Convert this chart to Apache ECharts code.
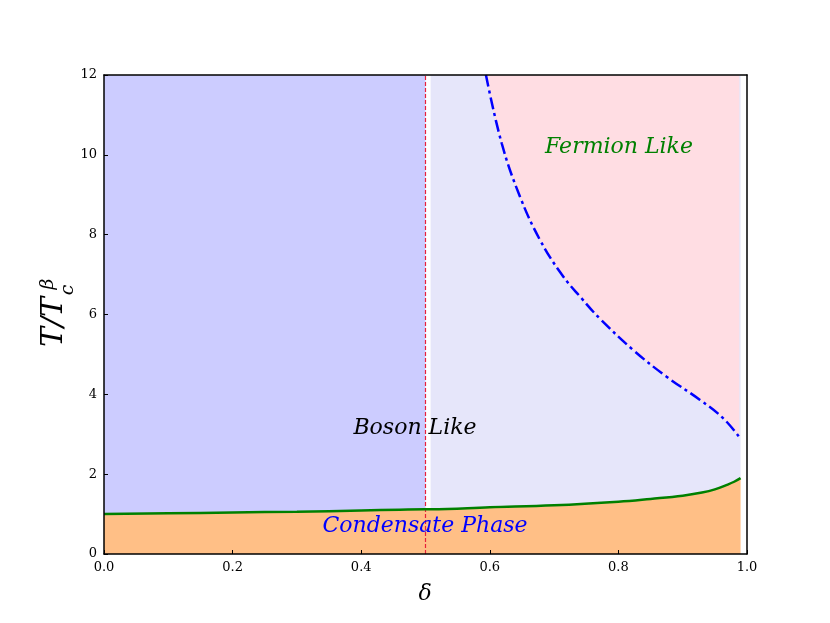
<!DOCTYPE html>
<html>
<head>
<meta charset="utf-8">
<script src="https://cdn.jsdelivr.net/npm/echarts@6/dist/echarts.min.js"></script>
<style>html,body{margin:0;padding:0;background:#fff}#c{width:830px;height:623px}</style>
</head>
<body>
<div id="c"></div>
<script>
// condensate boundary (green)
var greenDelta = [0, 0.1, 0.2, 0.3, 0.4, 0.46, 0.5, 0.508, 0.6, 0.7, 0.8, 0.85, 0.9, 0.93, 0.95, 0.97, 0.98, 0.99];
var greenT     = [1.00, 1.02, 1.04, 1.06, 1.09, 1.11, 1.12, 1.12, 1.17, 1.22, 1.31, 1.38, 1.46, 1.54, 1.62, 1.74, 1.81, 1.90];
// boson/fermion crossover (blue dash-dot)
var crossDelta = [0.594, 0.6185, 0.647, 0.678, 0.712, 0.743, 0.771, 0.823, 0.875, 0.927, 0.963, 0.988];
var crossT     = [12.0, 10.29, 8.95, 7.87, 7.00, 6.40, 5.90, 5.11, 4.44, 3.86, 3.40, 2.93];
// vertical marker
var markerDelta = [0.5, 0.5];
var markerT = [0, 12];
var xTicks = [0, 0.2, 0.4, 0.6, 0.8, 1.0];
var yTicks = [0, 2, 4, 6, 8, 10, 12];
var regionLabels = ['Fermion Like', 'Boson Like', 'Condensate Phase'];

function zip(a, b) { return a.map(function (v, i) { return [v, b[i]]; }); }
var green = zip(greenDelta, greenT);
var greenLeft = green.filter(function (p) { return p[0] <= 0.5; });
var greenRight = green.filter(function (p) { return p[0] >= 0.508; });
var cross = zip(crossDelta, crossT);

var serif = 'DejaVu Serif';
var SM = 0.4;
var chart = echarts.init(document.getElementById('c'), null, {renderer: 'canvas'});
var axisCommon = {
  type: 'value',
  z: 10,
  axisLine: {show: true, onZero: false, lineStyle: {color: '#000', width: 1.5}},
  splitLine: {show: false}
};
chart.setOption({
  animation: false,
  backgroundColor: '#fff',
  grid: {left: 104, right: 83, top: 75, bottom: 69, containLabel: false},
  xAxis: [
    Object.assign({}, axisCommon, {
      min: 0, max: 1, interval: 0.2, position: 'bottom',
      axisTick: {show: true, inside: true, length: 4, lineStyle: {color: '#000'}},
      axisLabel: {margin: 7, color: '#000', fontFamily: serif, fontSize: 13,
        formatter: function (v) { return v.toFixed(1); }}
    }),
    Object.assign({}, axisCommon, {
      min: 0, max: 1, position: 'top', axisTick: {show: false}, axisLabel: {show: false}
    })
  ],
  yAxis: [
    Object.assign({}, axisCommon, {
      min: 0, max: 12, interval: 2, position: 'left',
      axisTick: {show: true, inside: true, length: 4, lineStyle: {color: '#000'}},
      axisLabel: {margin: 7, color: '#000', fontFamily: serif, fontSize: 13}
    }),
    Object.assign({}, axisCommon, {
      min: 0, max: 12, position: 'right', axisTick: {show: false}, axisLabel: {show: false}
    })
  ],
  series: [
    {type: 'line', data: green, symbol: 'none', smooth: SM, lineStyle: {width: 0},
      areaStyle: {origin: 'start', color: '#ffbf86', opacity: 1}, z: 1},
    {type: 'line', data: greenLeft, symbol: 'none', smooth: SM, lineStyle: {width: 0},
      areaStyle: {origin: 'end', color: '#ccccff', opacity: 1}, z: 1},
    {type: 'line', data: greenRight, symbol: 'none', smooth: SM, lineStyle: {width: 0},
      areaStyle: {origin: 'end', color: '#e6e6fa', opacity: 1}, z: 1},
    {type: 'line', data: cross, symbol: 'none', smooth: SM, lineStyle: {width: 0},
      areaStyle: {origin: 'end', color: '#ffdde3', opacity: 1}, z: 2},
    {type: 'line', data: zip(markerDelta, markerT), symbol: 'none', silent: true,
      itemStyle: {color: '#e8203a'},
      lineStyle: {color: '#e8203a', width: 1.2, type: [4, 2]}, z: 3},
    {type: 'line', data: green, symbol: 'none', smooth: SM,
      itemStyle: {color: '#008000'},
      lineStyle: {color: '#008000', width: 2.5}, z: 4},
    {type: 'line', data: cross, symbol: 'none', smooth: SM,
      itemStyle: {color: '#0000ff'},
      lineStyle: {color: '#0000ff', width: 2.5, type: [12, 4, 3, 4]}, z: 4}
  ],
  graphic: [
    {type: 'text', x: 619, y: 147, z: 20, style: {text: regionLabels[0], fill: '#008000',
      font: 'italic 22px "DejaVu Serif"', align: 'center', verticalAlign: 'middle'}},
    {type: 'text', x: 415, y: 428, z: 20, style: {text: regionLabels[1], fill: '#000',
      font: 'italic 22px "DejaVu Serif"', align: 'center', verticalAlign: 'middle'}},
    {type: 'text', x: 425, y: 526, z: 20, style: {text: regionLabels[2], fill: '#0000ff',
      font: 'italic 22px "DejaVu Serif"', align: 'center', verticalAlign: 'middle'}},
    {type: 'text', x: 425, y: 594, z: 20, style: {text: 'δ', fill: '#000',
      font: 'italic 22px "DejaVu Serif"', align: 'center', verticalAlign: 'middle'}},
    {type: 'text', x: 54, y: 322, rotation: Math.PI / 2, z: 20, style: {text: 'T/T', fill: '#000',
      font: 'italic 30px "DejaVu Serif"', align: 'center', verticalAlign: 'middle'}},
    {type: 'text', x: 48, y: 284, rotation: Math.PI / 2, z: 20, style: {text: 'β', fill: '#000',
      font: 'italic 19px "DejaVu Serif"', align: 'center', verticalAlign: 'middle'}},
    {type: 'text', x: 68, y: 290, rotation: Math.PI / 2, z: 20, style: {text: 'c', fill: '#000',
      font: 'italic 19px "DejaVu Serif"', align: 'center', verticalAlign: 'middle'}}
  ]
});
</script>
</body>
</html>
